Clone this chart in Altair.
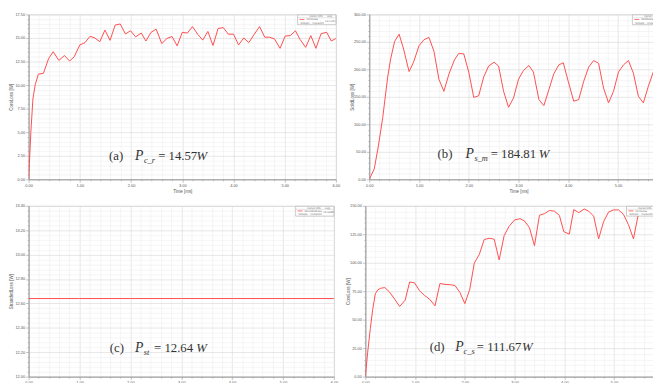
import altair as alt
import pandas as pd

# ---------------- data ----------------
TIME_A = [0, 0.045, 0.084, 0.13, 0.19, 0.29, 0.39, 0.48, 0.59, 0.70, 0.80, 0.89, 1.0, 1.1, 1.2, 1.29, 1.39,
          1.49, 1.59, 1.69, 1.79, 1.89, 1.99, 2.09, 2.2, 2.29, 2.39, 2.49, 2.6, 2.7, 2.8, 2.9, 3.0, 3.1, 3.2,
          3.3, 3.4, 3.5, 3.6, 3.7, 3.8, 3.9, 4.0, 4.1, 4.2, 4.3, 4.4, 4.51, 4.61, 4.7, 4.8, 4.91, 5.01, 5.11,
          5.21, 5.3, 5.41, 5.51, 5.61, 5.71, 5.82, 5.91, 6.0]
LOSS_A = [0, 5.12, 8.53, 10.06, 11.15, 11.26, 12.8, 13.54, 12.62, 13.13, 12.55, 13.0, 14.26, 14.5, 15.18, 15.0,
          14.6, 15.83, 14.74, 16.37, 16.48, 15.42, 15.76, 15.11, 15.52, 14.67, 15.59, 15.93, 14.4, 14.94, 15.15,
          14.16, 15.59, 15.52, 16.2, 15.4, 14.77, 15.69, 14.2, 16.0, 16.1, 15.4, 15.4, 14.26, 15.0, 14.5, 15.35,
          16.2, 15.08, 15.08, 14.9, 13.9, 15.2, 15.25, 15.76, 14.84, 14.0, 15.25, 13.9, 15.45, 15.6, 14.67, 14.94]

TIME_B = [0, 0.1, 0.18, 0.27, 0.37, 0.43, 0.51, 0.6, 0.69, 0.8, 0.89, 1.0, 1.1, 1.2, 1.3, 1.4, 1.5, 1.6, 1.71,
          1.8, 1.9, 2.0, 2.1, 2.2, 2.3, 2.4, 2.51, 2.6, 2.7, 2.8, 2.9, 3.0, 3.1, 3.21, 3.3, 3.41, 3.51, 3.61,
          3.71, 3.81, 3.9, 4.0, 4.11, 4.21, 4.31, 4.41, 4.51, 4.61, 4.71, 4.81, 4.91, 5.01, 5.11, 5.21, 5.31,
          5.41, 5.51, 5.61, 5.72, 5.82, 5.92]
LOSS_B = [0, 18.9, 59, 112, 186, 219, 251, 264, 237, 196, 213, 243, 254, 258, 233, 182, 160, 191, 217, 229,
          228, 195, 149, 152, 186, 206, 213, 206, 160, 131, 148, 182, 198, 207, 195, 145, 134, 163, 192, 208,
          212, 178, 142, 145, 178, 204, 216, 211, 166, 139, 160, 195, 208, 216, 193, 151, 139, 169, 198, 211, 214]

TIME_C = [0, 1, 2, 3, 4, 5, 6]
LOSS_C = [12.64, 12.64, 12.64, 12.64, 12.64, 12.64, 12.64]

TIME_D = [0, 0.047, 0.1, 0.147, 0.2, 0.25, 0.31, 0.39, 0.48, 0.59, 0.69, 0.8, 0.89, 0.99, 1.09, 1.19, 1.29,
          1.4, 1.5, 1.6, 1.71, 1.8, 1.9, 2.0, 2.1, 2.19, 2.29, 2.39, 2.49, 2.59, 2.69, 2.79, 2.89, 3.0, 3.11,
          3.2, 3.3, 3.4, 3.5, 3.6, 3.7, 3.8, 3.9, 3.99, 4.1, 4.19, 4.29, 4.4, 4.49, 4.59, 4.69, 4.79, 4.89,
          4.99, 5.09, 5.19, 5.29, 5.39, 5.48, 5.58, 5.68, 5.78, 5.9, 6.0]
LOSS_D = [0, 21.5, 42.3, 58.8, 72.7, 76.2, 77.6, 78.2, 74.6, 68, 61.6, 67.1, 83.1, 82.3, 75.4, 71.3, 68, 62.2,
          81.8, 81, 80.7, 80.1, 74, 64.1, 76.8, 99.7, 107.2, 120.4, 121.5, 120.7, 102.5, 123.8, 132, 137.6,
          138.7, 136.7, 130.7, 114.9, 141.7, 143.1, 145.9, 145.3, 141.7, 127.3, 125.1, 146.7, 144, 147.2,
          145.3, 140.9, 121, 136.2, 144.5, 146.4, 146.4, 142.5, 133.4, 121, 140.9, 144.5, 145, 144.5, 139, 136]

LABEL_TAG = ["(a)", "(b)", "(c)", "(d)"]
LABEL_SUB = ["c_r", "s_m", "st", "c_s"]
LABEL_VAL = ["= 14.57", "= 184.81", "= 12.64", "= 111.67"]
LEGEND_NAME = ["CoreLoss", "SolidLoss", "StrandedLoss", "CoreLoss"]
LEGEND_VAL = ["14.5707", "184.8104", "12.6400", "111.6700"]
Y_TITLES = ["CoreLoss [W]", "SolidLoss [W]", "StrandedLoss [W]", "CoreLoss [W]"]

RED = "#ff4d4d"
SERIF = "Liberation Serif"


def axis(step_major, n_minor, vmin, vmax, title, is_x):
    step = step_major / n_minor
    n = int(round((vmax - vmin) / step + 1e-9))
    vals = [round(vmin + i * step, 4) for i in range(n + 1)]
    major = f"abs((datum.value - {vmin}) / {step_major} - round((datum.value - {vmin}) / {step_major})) < 0.001"
    return alt.Axis(
        values=vals,
        labelExpr=f"({major}) ? format(datum.value, '.2f') : ''",
        title=title,
        titleFontSize=4.5,
        titleFontWeight="normal",
        titleColor="#555",
        titlePadding=1,
        labelFontSize=4,
        labelColor="#555",
        labelPadding=1,
        labelFlush=False,
        labelOverlap=False,
        domainColor="#999",
        tickColor="#999",
        tickWidth=0.6,
        tickSize={"condition": {"test": major, "value": 3}, "value": 1.5},
        gridColor={"condition": {"test": major, "value": "#d6d6d6"}, "value": "#eeeeee"},
        gridWidth=0.6,
        minExtent=(8 if is_x else 14),
        maxExtent=(8 if is_x else 14),
    )


def panel(times, vals, xmax, ymin, ymax, ymajor, width, height, idx, anchor, offs, legend_w):
    df = pd.DataFrame({"t": times, "v": vals})
    xs = alt.X("t:Q", scale=alt.Scale(domain=[0, xmax], nice=False, zero=False),
               axis=axis(1.0, 5, 0, xmax, "Time [ms]", True))
    ys = alt.Y("v:Q", scale=alt.Scale(domain=[ymin, ymax], nice=False, zero=False),
               axis=axis(ymajor, 5, ymin, ymax, Y_TITLES[idx], False))
    line = alt.Chart(df).mark_line(color=RED, strokeWidth=1, clip=True).encode(x=xs, y=ys)

    adf = pd.DataFrame({"t": [anchor[0]], "v": [anchor[1]]})
    base = alt.Chart(adf)
    common = dict(align="left", baseline="alphabetic", font=SERIF, color="#333")
    t1 = base.mark_text(text=LABEL_TAG[idx], fontSize=13, dx=0, **common).encode(x=xs, y=ys)
    t2 = base.mark_text(text="P", fontSize=14, fontStyle="italic", dx=offs[0], **common).encode(x=xs, y=ys)
    t3 = base.mark_text(text=LABEL_SUB[idx], fontSize=8.5, fontStyle="italic", dx=offs[1], dy=3,
                        **common).encode(x=xs, y=ys)
    t4 = base.mark_text(text=LABEL_VAL[idx], fontSize=13, dx=offs[2], **common).encode(x=xs, y=ys)
    t5 = base.mark_text(text="W", fontSize=13, fontStyle="italic", dx=offs[3], **common).encode(x=xs, y=ys)

    one = alt.Chart(pd.DataFrame({"k": [0]}))
    x0 = width - legend_w
    box = one.mark_rect(fill="white", stroke="#999", strokeWidth=0.5).encode(
        x=alt.value(x0), x2=alt.value(width), y=alt.value(0.5), y2=alt.value(10.5))
    sep = one.mark_rule(color="#bbb", strokeWidth=0.4).encode(
        x=alt.value(x0), x2=alt.value(width), y=alt.value(3.5))
    sw = one.mark_rule(color=RED, strokeWidth=0.8).encode(
        x=alt.value(x0 + 2), x2=alt.value(x0 + 7), y=alt.value(5.2))
    small = dict(fontSize=2.6, color="#666", baseline="middle", align="left", font="DejaVu Sans")
    h1 = one.mark_text(text="Curve Info", **small).encode(x=alt.value(x0 + 12), y=alt.value(2))
    h2 = one.mark_text(text="avg", **small).encode(x=alt.value(x0 + 30), y=alt.value(2))
    r1 = one.mark_text(text=LEGEND_NAME[idx], **small).encode(x=alt.value(x0 + 9), y=alt.value(5.2))
    r2 = one.mark_text(text=LEGEND_VAL[idx], **small).encode(x=alt.value(x0 + 28), y=alt.value(6.5))
    r3 = one.mark_text(text="Setup1 : Transient", **small).encode(x=alt.value(x0 + 3), y=alt.value(8.3))

    return alt.layer(line, t1, t2, t3, t4, t5, box, sep, sw, h1, h2, r1, r2, r3).properties(
        width=width, height=height)


pa = panel(TIME_A, LOSS_A, 6.0, 0, 17.5, 2.5, 313, 168, 0, (1.571, 2.06), (26.4, 35.5, 50, 89), 39)
pb = panel(TIME_B, LOSS_B, 6.0, 0, 300, 50, 304, 168, 1, (1.374, 39.0), (28.3, 37.5, 54, 103), 36)
pc = panel(TIME_C, LOSS_C, 6.0, 12.0, 13.4, 0.2, 311, 174, 2, (1.596, 12.20), (25.7, 34.5, 45, 88), 39)
pd_ = panel(TIME_D, LOSS_D, 6.0, 0, 150, 25, 304, 174, 3, (1.294, 22.1), (26, 34.5, 48, 94), 38)

row1 = alt.hconcat(pa, pb, spacing=8)
row2 = alt.hconcat(pc, pd_, spacing=6)
chart = alt.vconcat(row1, row2, spacing=10).properties(
    padding={"left": 0, "top": 0, "right": -20, "bottom": -11}
).configure_view(stroke="#9a9a9a", strokeWidth=0.8).configure(background="white")

chart.save("out.html", embed_options={"renderer": "svg", "actions": False})
